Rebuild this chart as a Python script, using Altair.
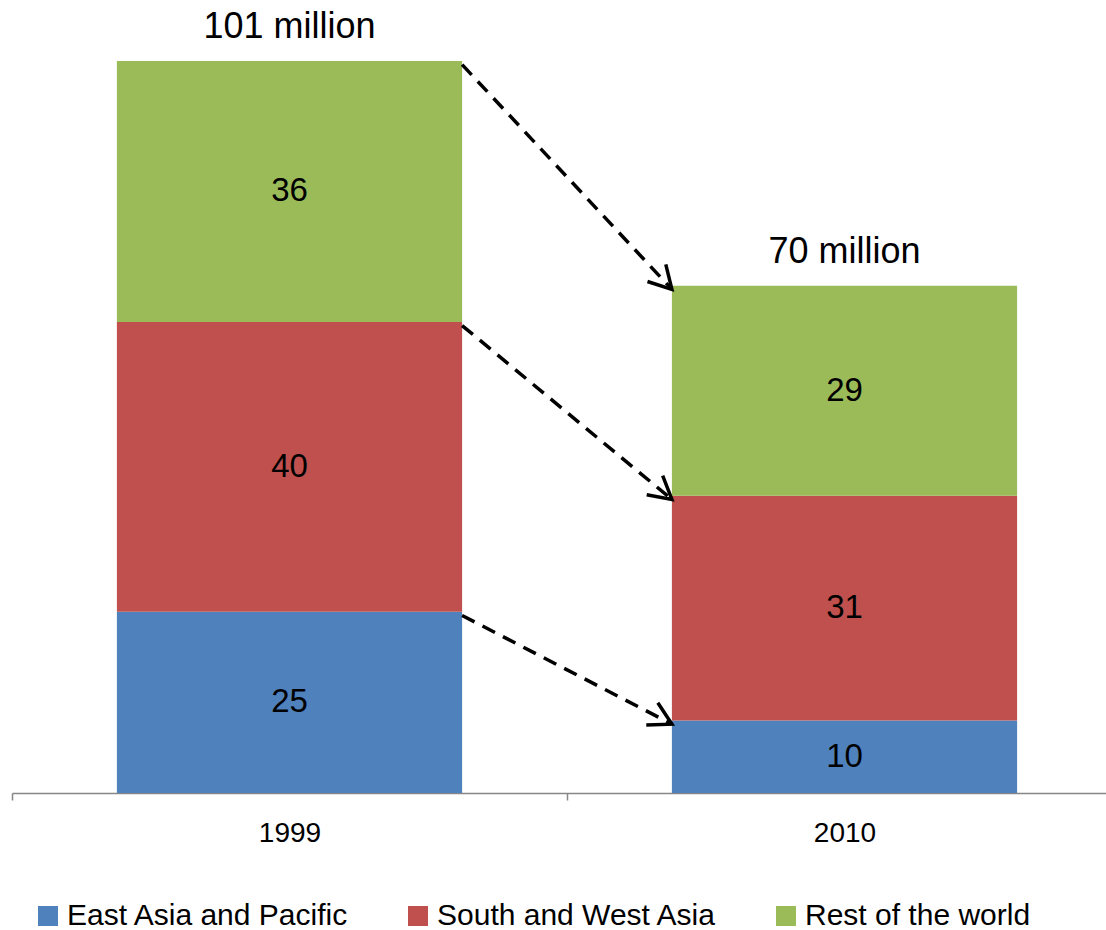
import math
import altair as alt
import pandas as pd

# ---- data ----
years = ["1999", "2010"]
regions = ["East Asia and Pacific", "South and West Asia", "Rest of the world"]
values_1999 = [25, 40, 36]
values_2010 = [10, 31, 29]
total_labels = ["101 million", "70 million"]
colors = ["#4F81BD", "#C0504D", "#9BBB59"]

FONT = "Liberation Sans"

# ---- layout ----
PAD_L, PAD_T, PAD_B = 12, 61, 137
PLOT_W, PLOT_H = 1094, 732
X_RANGE = 1110
PAD_INNER = 0.378
PAD_OUTER = PAD_INNER / 2
Y_MAX = sum(values_1999)

rows = []
tops = {}
for yr, vals in zip(years, [values_1999, values_2010]):
    cum = 0
    tops[yr] = []
    for i, (r, v) in enumerate(zip(regions, vals)):
        rows.append(dict(year=yr, region=r, value=v, order=i, mid=cum + v / 2))
        cum += v
        tops[yr].append(cum)
df = pd.DataFrame(rows)

totals = pd.DataFrame({
    "year": years,
    "total": [sum(values_1999), sum(values_2010)],
    "label": total_labels,
})

# arrows from top of each 1999 segment to top of matching 2010 segment
step = X_RANGE / (2 - PAD_INNER + 2 * PAD_OUTER)
bw = step * (1 - PAD_INNER)


def px_y(v):
    return PLOT_H * (1 - v / Y_MAX)


arrow_rows = []
for i, r in enumerate(regions):
    y0 = tops["1999"][i] - 0.5
    y1 = tops["2010"][i] - 0.5
    x0 = step * PAD_OUTER + bw
    x1 = step * PAD_OUTER + step
    ang = math.degrees(math.atan2(px_y(y1) - px_y(y0), x1 - x0))
    arrow_rows.append(dict(from_year="1999", to_year="2010", y_from=y0, y_to=y1, angle=ang))
arrows = pd.DataFrame(arrow_rows)

x_scale = alt.Scale(domain=years, range=[0, X_RANGE], paddingInner=PAD_INNER, paddingOuter=PAD_OUTER)
y_scale = alt.Scale(domain=[0, Y_MAX], nice=False, zero=True)

bars = alt.Chart(df).mark_bar().encode(
    x=alt.X("year:N", scale=x_scale, axis=alt.Axis(
        title=None, labelAngle=0, labelFont=FONT, labelFontSize=28, labelColor="black",
        labelPadding=19, tickSize=7, tickOffset=-step / 2, labelOffset=step / 2,
        domainColor="#878787", tickColor="#878787", domainWidth=1.5, tickWidth=1.5)),
    y=alt.Y("value:Q", stack="zero", scale=y_scale, axis=None),
    color=alt.Color("region:N", scale=alt.Scale(domain=regions, range=colors), legend=alt.Legend(
        title=None, orient="none", legendX=21, legendY=840, direction="horizontal",
        symbolType="square", symbolSize=400, symbolStrokeWidth=0, labelFont=FONT,
        labelFontSize=30, labelColor="black", labelOffset=4, columnPadding=54, padding=0,
        labelLimit=0)),
    order=alt.Order("order:Q"),
)

labels = alt.Chart(df).mark_text(font=FONT, fontSize=33, baseline="middle", color="black").encode(
    x=alt.X("year:N"),
    y=alt.Y("mid:Q"),
    text=alt.Text("value:Q"),
)

total_text = alt.Chart(totals).mark_text(font=FONT, fontSize=36, baseline="alphabetic", dy=-23, color="black").encode(
    x=alt.X("year:N"),
    y=alt.Y("total:Q"),
    text=alt.Text("label:N"),
)

rules = alt.Chart(arrows).mark_rule(strokeDash=[14, 9], strokeWidth=3.5, color="black").encode(
    x=alt.X("from_year:N", bandPosition=1),
    x2=alt.X2("to_year:N", bandPosition=0),
    y=alt.Y("y_from:Q"),
    y2=alt.Y2("y_to:Q"),
)

heads = alt.Chart(arrows).mark_point(
    shape="M-1,-0.56L0,0L-1,0.56", size=2000, filled=False, strokeWidth=3.5,
    color="black", opacity=1, strokeJoin="miter").encode(
    x=alt.X("to_year:N", bandPosition=0),
    y=alt.Y("y_to:Q"),
    angle=alt.Angle("angle:Q", scale=None),
)

chart = alt.layer(bars, labels, total_text, rules, heads).properties(
    width=PLOT_W, height=PLOT_H,
    padding={"left": PAD_L, "top": PAD_T, "right": 0, "bottom": PAD_B},
    autosize=alt.AutoSizeParams(type="none"),
).configure_view(stroke=None)

chart.save("out.html", embed_options={"renderer": "svg", "actions": False})
